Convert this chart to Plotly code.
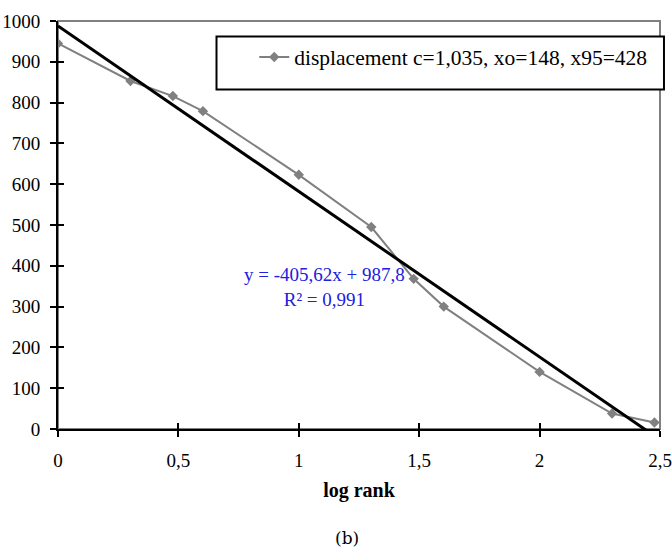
import plotly.graph_objects as go

# Data: log10(rank) vs displacement
log_rank = [0.0, 0.301, 0.477, 0.602, 1.0, 1.301, 1.477, 1.602, 2.0, 2.301, 2.477]
displacement = [945, 853, 816, 779, 623, 495, 368, 300, 140, 38, 16]
series_name = "displacement c=1,035, xo=148, x95=428"

# Linear trendline coefficients (as reported)
slope = -405.62
intercept = 987.8
fit_x = [0.0, 2.5]
fit_y = [slope * v + intercept for v in fit_x]

x_ticks = [0, 0.5, 1, 1.5, 2, 2.5]
x_ticklabels = ["0", "0,5", "1", "1,5", "2", "2,5"]
y_ticks = [0, 100, 200, 300, 400, 500, 600, 700, 800, 900, 1000]

FONT = "Liberation Serif, Times New Roman, serif"
GRAY = "#808080"

fig = go.Figure()
fig.add_trace(go.Scatter(
    x=log_rank, y=displacement, mode="lines+markers", name=series_name,
    line=dict(color=GRAY, width=2),
    marker=dict(symbol="diamond", size=8, color=GRAY),
    showlegend=True,
))
fig.add_trace(go.Scatter(
    x=fit_x, y=fit_y, mode="lines", line=dict(color="black", width=3),
    showlegend=False, hoverinfo="skip",
))
# overlay axes to produce crossing ticks
fig.add_trace(go.Scatter(x=[None], y=[None], xaxis="x2", yaxis="y2", showlegend=False))

tickfont = dict(family=FONT, size=19, color="black")

fig.update_layout(
    width=672, height=550,
    margin=dict(l=58, r=12, t=21, b=121, autoexpand=False),
    paper_bgcolor="white", plot_bgcolor="white",
    separators=",.",
    font=dict(family=FONT, size=19, color="black"),
    xaxis=dict(range=[0, 2.5], tickvals=x_ticks, ticktext=x_ticklabels, tickfont=tickfont,
               showgrid=False, zeroline=False, showline=True, linecolor="black",
               linewidth=2, ticks="outside", ticklen=6, tickwidth=2, tickcolor="black",
               ticklabelstandoff=7, automargin=False,
               title=dict(text="<b>log rank</b>", font=dict(family=FONT, size=20), standoff=13)),
    yaxis=dict(range=[0, 1000], tickvals=y_ticks, tickfont=tickfont,
               showgrid=False, zeroline=False, showline=True, linecolor="black",
               linewidth=2, ticks="outside", ticklen=6, tickwidth=2, tickcolor="black",
               ticklabelstandoff=6, automargin=False),
    xaxis2=dict(overlaying="x", matches="x", range=[0, 2.5], tickvals=x_ticks,
                showticklabels=False, ticks="inside", ticklen=6, tickwidth=2,
                tickcolor="black", showgrid=False, zeroline=False, showline=False,
                side="bottom", anchor="y2", automargin=False),
    yaxis2=dict(overlaying="y", matches="y", range=[0, 1000], tickvals=y_ticks,
                showticklabels=False, ticks="inside", ticklen=6, tickwidth=2,
                tickcolor="black", showgrid=False, zeroline=False, showline=False,
                side="left", anchor="x2", automargin=False),
    legend=dict(x=0.326, y=0.962, xanchor="left", yanchor="top",
                bgcolor="rgba(0,0,0,0)", borderwidth=0,
                font=dict(family=FONT, size=21.5, color="black")),
    shapes=[
        dict(type="rect", xref="x domain", yref="y domain", x0=0, x1=1, y0=0, y1=1,
             line=dict(color=GRAY, width=2), layer="below"),
        dict(type="rect", xref="paper", yref="paper", x0=0.2633, x1=1.0066, y0=0.832, y1=0.962,
             line=dict(color="black", width=2), fillcolor="white", layer="above"),
    ],
    annotations=[
        dict(x=1.105, y=347, xref="x", yref="y", showarrow=False, align="center",
             text="y = -405,62x + 987,8<br>R² = 0,991",
             font=dict(family=FONT, size=19, color="#2020e0")),
        dict(x=0.48, y=-0.267, xref="paper", yref="paper", showarrow=False, yanchor="middle",
             text="(b)", font=dict(family="DejaVu Serif", size=17, color="black")),
    ],
)

fig.write_html("out.html")
